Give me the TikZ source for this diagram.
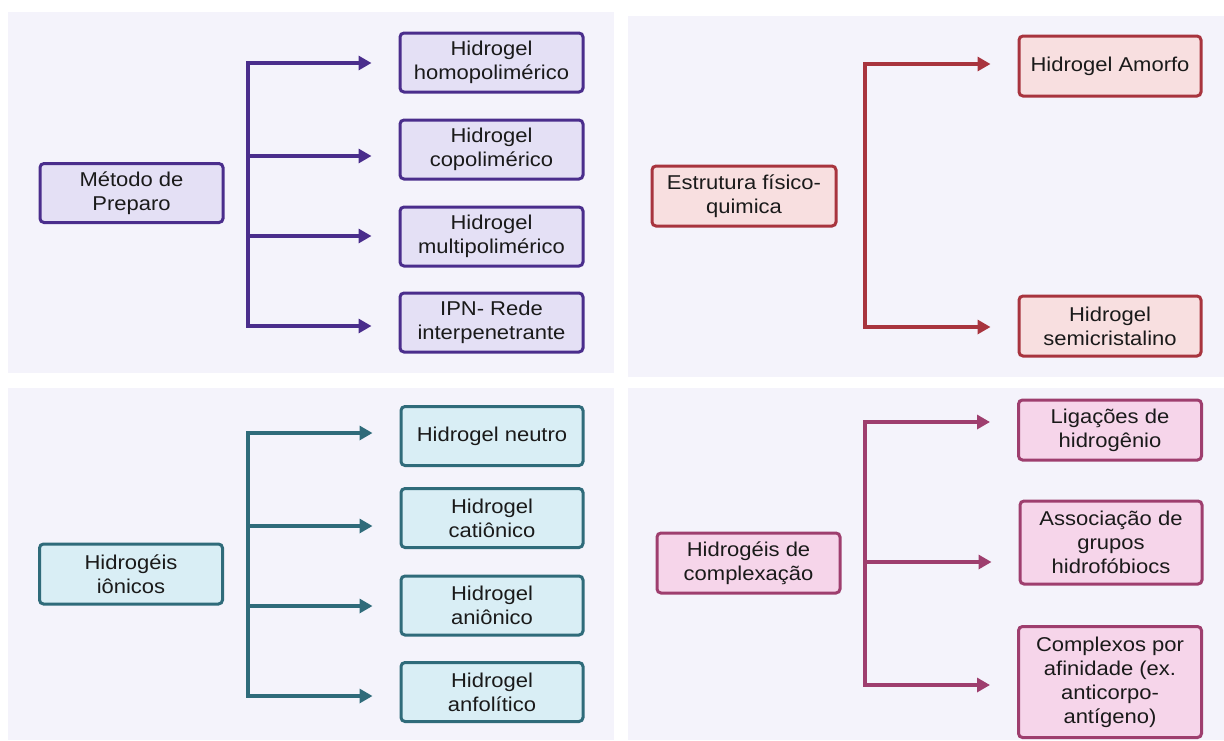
\documentclass[tikz,border=0pt]{standalone}
\usepackage{fontspec}
\setmainfont{Liberation Sans}[FakeStretch=1.1]
\usetikzlibrary{arrows.meta}
\definecolor{panelbg}{HTML}{F4F3FB}
\definecolor{txt}{HTML}{1A1A1A}
\definecolor{purS}{HTML}{4A2D8C}
\definecolor{purF}{HTML}{E4E0F5}
\definecolor{redS}{HTML}{A8343E}
\definecolor{redF}{HTML}{F8DFE0}
\definecolor{teaS}{HTML}{2F6B7A}
\definecolor{teaF}{HTML}{D9EEF5}
\definecolor{pinS}{HTML}{9E3E6E}
\definecolor{pinF}{HTML}{F6D5EA}
\tikzset{
  box/.style={rectangle, rounded corners=4pt, line width=3pt, inner sep=0pt,
    align=center, text=txt, font=\fontsize{20}{24}\selectfont},
  pbox/.style={box, draw=purS, fill=purF},
  rbox/.style={box, draw=redS, fill=redF},
  tbox/.style={box, draw=teaS, fill=teaF},
  kbox/.style={box, draw=pinS, fill=pinF},
  conn/.style={line width=3.2pt, -{Triangle[length=13pt,width=14pt]}, shorten >=27pt},
  panel/.style={fill=panelbg, draw=none}
}
\begin{document}
\begin{tikzpicture}[x=1pt,y=-1pt]
\useasboundingbox[fill=white] (0,0) rectangle (1224,740);
% panels
\fill[panelbg] (8,12) rectangle (614,373);
\fill[panelbg] (628,16) rectangle (1224,377);
\fill[panelbg] (8,388) rectangle (614,740);
\fill[panelbg] (628,388) rectangle (1224,740);

% ---------- top-left ----------
\node[pbox, minimum width=183pt, minimum height=59pt] (mp) at (131.5,193) {Método de\\Preparo};
\node[pbox, minimum width=183pt, minimum height=59pt] (a1) at (491.5,62.5) {Hidrogel\\homopolimérico};
\node[pbox, minimum width=183pt, minimum height=59pt] (a2) at (491.5,149.5) {Hidrogel\\copolimérico};
\node[pbox, minimum width=183pt, minimum height=59pt] (a3) at (491.5,236.5) {Hidrogel\\multipolimérico};
\node[pbox, minimum width=183pt, minimum height=59pt] (a4) at (491.5,322.5) {IPN- Rede\\interpenetrante};
\coordinate (ta1) at (248,63);
\coordinate (ta2) at (248,156);
\coordinate (ta3) at (248,236);
\coordinate (ta4) at (248,326);
\draw[conn, draw=purS] (ta4) -- (ta1) -- (ta1 -| a1.west);
\draw[conn, draw=purS] (ta1) -- (ta4) -- (ta4 -| a4.west);
\draw[conn, draw=purS] (ta2) -- (ta2 -| a2.west);
\draw[conn, draw=purS] (ta3) -- (ta3 -| a3.west);

% ---------- top-right ----------
\node[rbox, minimum width=184pt, minimum height=60pt] (ef) at (744,196) {Estrutura físico-\\quimica};
\node[rbox, minimum width=182pt, minimum height=60pt] (b1) at (1110,66) {Hidrogel Amorfo};
\node[rbox, minimum width=182pt, minimum height=60pt] (b2) at (1110,326) {Hidrogel\\semicristalino};
\coordinate (tb1) at (865,64);
\coordinate (tb2) at (865,327);
\draw[conn, draw=redS] (tb2) -- (tb1) -- (tb1 -| b1.west);
\draw[conn, draw=redS] (tb1) -- (tb2) -- (tb2 -| b2.west);

% ---------- bottom-left ----------
\node[tbox, minimum width=183pt, minimum height=60pt] (hi) at (131,574) {Hidrogéis\\iônicos};
\node[tbox, minimum width=182pt, minimum height=59pt] (c1) at (492,436) {Hidrogel neutro};
\node[tbox, minimum width=182pt, minimum height=59pt] (c2) at (492,518) {Hidrogel\\catiônico};
\node[tbox, minimum width=182pt, minimum height=59pt] (c3) at (492,605.5) {Hidrogel\\aniônico};
\node[tbox, minimum width=182pt, minimum height=59pt] (c4) at (492,692) {Hidrogel\\anfolítico};
\coordinate (tc1) at (248,433);
\coordinate (tc2) at (248,526);
\coordinate (tc3) at (248,606);
\coordinate (tc4) at (248,696);
\draw[conn, draw=teaS] (tc4) -- (tc1) -- (tc1 -| c1.west);
\draw[conn, draw=teaS] (tc1) -- (tc4) -- (tc4 -| c4.west);
\draw[conn, draw=teaS] (tc2) -- (tc2 -| c2.west);
\draw[conn, draw=teaS] (tc3) -- (tc3 -| c3.west);

% ---------- bottom-right ----------
\node[kbox, minimum width=183pt, minimum height=60pt] (hc) at (748.5,563) {Hidrogéis de\\complexação};
\node[kbox, minimum width=183pt, minimum height=60pt] (d1) at (1110,430) {Ligações de\\hidrogênio};
\node[kbox, minimum width=182pt, minimum height=83pt] (d2) at (1111,542.5) {Associação de\\grupos\\hidrofóbiocs};
\node[kbox, minimum width=183pt, minimum height=111pt] (d3) at (1110,682) {Complexos por\\afinidade (ex.\\anticorpo-\\antígeno)};
\coordinate (td1) at (865,422);
\coordinate (td2) at (865,562);
\coordinate (td3) at (865,685);
\draw[conn, draw=pinS] (td3) -- (td1) -- (td1 -| d1.west);
\draw[conn, draw=pinS] (td1) -- (td3) -- (td3 -| d3.west);
\draw[conn, draw=pinS] (td2) -- (td2 -| d2.west);
\end{tikzpicture}
\end{document}
